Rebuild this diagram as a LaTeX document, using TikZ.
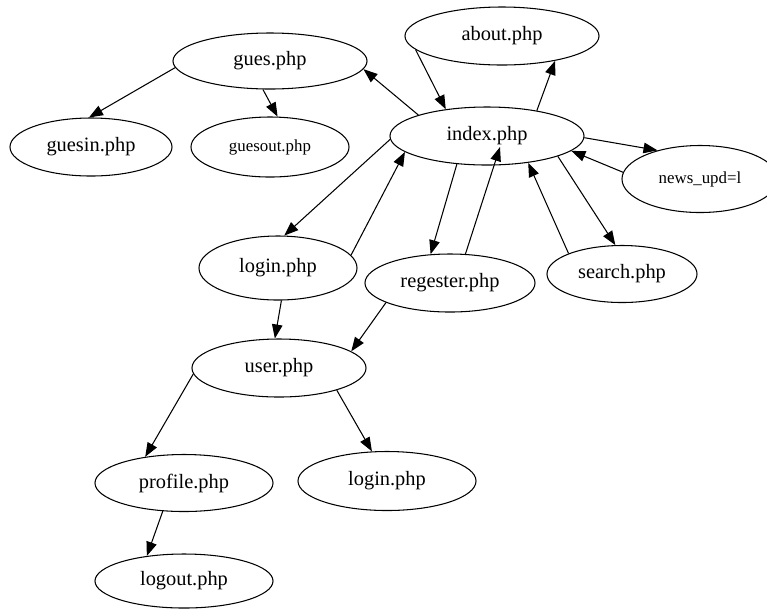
\documentclass[tikz,border=0pt]{standalone}
\usepackage{fontspec}
\setmainfont{Liberation Serif}
\usepackage{tikz}
\usetikzlibrary{shapes,arrows.meta,calc}

\begin{document}
\begin{tikzpicture}[x=0.025cm,y=-0.025cm,line width=0.75pt,
  >={Triangle[length=10pt,width=7.5pt]},
  pg/.style={ellipse,draw,inner sep=0pt,font=\fontsize{14.5}{17}\selectfont},
  sm/.style={font=\fontsize{12}{14}\selectfont},
  sz/.style 2 args={minimum width=#1cm,minimum height=#2cm}]
  \useasboundingbox (0,0) rectangle (767,608);

  \node[pg,sz={4.85}{1.4}] (gues) at (270,61) {gues.php};
  \node[pg,sz={4.05}{1.45}] (guesin) at (91,147) {guesin.php};
  \node[pg,sm,sz={3.95}{1.5}] (guesout) at (270,147) {guesout.php};
  \node[pg,sz={4.85}{1.45}] (about) at (502,36) {about.php};
  \node[pg,sz={4.85}{1.45}] (index) at (487,136) {index.php};
  \node[pg,sm,sz={3.9}{1.675}] (news) at (700,179) {news\_upd=l};
  \node[pg,sz={3.75}{1.425}] (search) at (622,274) {search.php};
  \node[pg,sz={4.25}{1.45}] (regester) at (450,283) {regester.php};
  \node[pg,sz={3.95}{1.6}] (login) at (278,268) {login.php};
  \node[pg,sz={4.35}{1.45}] (user) at (279,368) {user.php};
  \node[pg,sz={4.45}{1.425}] (profile) at (184,483) {profile.php};
  \node[pg,sz={4.45}{1.475}] (login2) at (387,481) {login.php};
  \node[pg,sz={4.45}{1.35}] (logout) at (184,581) {logout.php};

  % links out of gues
  \draw[->] (index.163) -- (gues.355);
  \draw[->] (gues.184) -- (guesin.94);
  \draw[->] (gues.256) -- (guesout.76);
  % index and the pages round it
  \draw[->] (about.189) -- (index.147);
  \draw[->] (index.27) -- (about.335);
  \draw[->] (index.359) -- (news.146);
  \draw[->] (news.175) -- (index.350);
  \draw[->] (index.344) -- (search.103);
  \draw[->] (search.159) -- (index.327);
  \draw[->] (index.223) -- (regester.124);
  \draw[->] (regester.62) -- ([shift={(13,11)}]index.center);
  \draw[->] (index.182) -- (login.79);
  \draw[->] (login.10) -- (index.191);
  % user area
  \draw[->] (login.276) -- (user.98);
  \draw[->] (regester.197) -- (user.13);
  \draw[->] (user.184) -- (profile.146);
  \draw[->] (user.339) -- (login2.117);
  \draw[->] (profile.233) -- (logout.146);
\end{tikzpicture}
\end{document}
